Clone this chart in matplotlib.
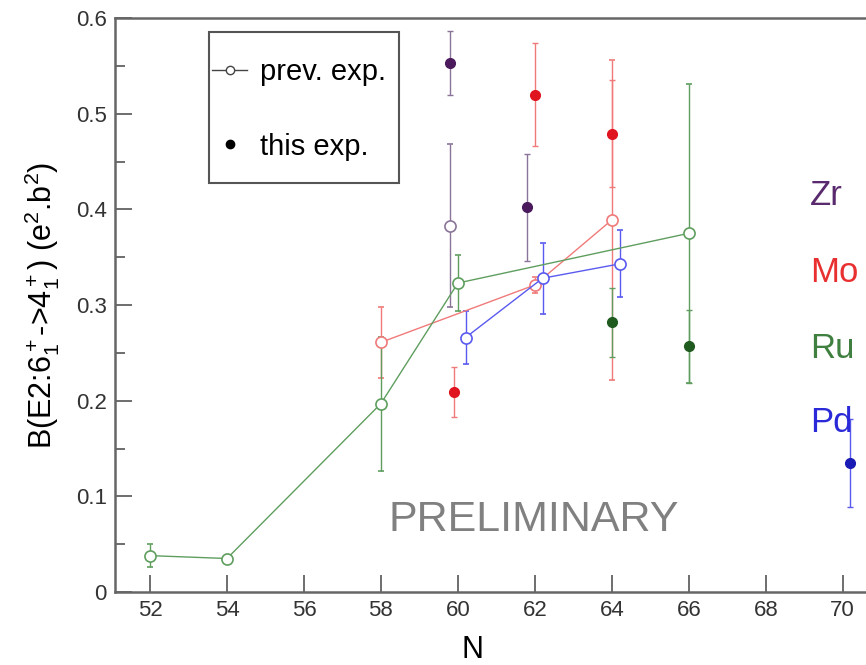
import matplotlib
matplotlib.use('Agg')
import matplotlib.pyplot as plt
from matplotlib.lines import Line2D
from matplotlib.patches import Rectangle

plt.rcParams['font.family'] = ['Liberation Sans', 'DejaVu Sans']
plt.rcParams['mathtext.fontset'] = 'custom'
plt.rcParams['mathtext.rm'] = 'Liberation Sans'
plt.rcParams['mathtext.it'] = 'Liberation Sans'

# previous experiments (open circles)
zr_prev_n = [59.8]
zr_prev = [0.383]
zr_prev_err = [0.085]
mo_prev_n = [58, 62, 64]
mo_prev = [0.261, 0.321, 0.389]
mo_prev_err = [0.037, 0.008, 0.167]
ru_prev_n = [52, 54, 58, 60, 66]
ru_prev = [0.038, 0.035, 0.197, 0.323, 0.375]
ru_prev_err = [0.012, 0.0, 0.07, 0.029, 0.156]
pd_prev_n = [60.2, 62.2, 64.2]
pd_prev = [0.266, 0.328, 0.343]
pd_prev_err = [0.028, 0.037, 0.035]

# this experiment (filled dots)
zr_this_n = [59.8, 61.8]
zr_this = [0.553, 0.402]
zr_this_err = [0.033, 0.056]
mo_this_n = [59.9, 62, 64]
mo_this = [0.209, 0.520, 0.479]
mo_this_err = [0.026, 0.054, 0.056]
ru_this_n = [64, 66]
ru_this = [0.282, 0.257]
ru_this_err = [0.036, 0.038]
pd_this_n = [70.2]
pd_this = [0.135]
pd_this_err = [0.046]

elements = ['Zr', 'Mo', 'Ru', 'Pd']
label_y = [0.415, 0.334, 0.255, 0.177]
col_dark = ['#4a1a5c', '#e0141e', '#1f5a1f', '#1a1ab4']
col_light = ['#8a7598', '#f07a7a', '#5f9e5f', '#5a5af0']
col_text = ['#5a2a6e', '#e83030', '#3f7f3f', '#2a2ad8']

fig = plt.figure(figsize=(8.66, 6.65), dpi=100)
ax = fig.add_axes([0.1328, 0.1098, 0.907, 0.863])

prev = [(zr_prev_n, zr_prev, zr_prev_err), (mo_prev_n, mo_prev, mo_prev_err),
        (ru_prev_n, ru_prev, ru_prev_err), (pd_prev_n, pd_prev, pd_prev_err)]
this = [(zr_this_n, zr_this, zr_this_err), (mo_this_n, mo_this, mo_this_err),
        (ru_this_n, ru_this, ru_this_err), (pd_this_n, pd_this, pd_this_err)]

for i in range(4):
    n, v, e = prev[i]
    ax.errorbar(n, v, yerr=e, fmt='-o', color=col_light[i], lw=1.0, elinewidth=1.0,
                capsize=2.5, capthick=1.0, ms=8, mfc='white', mec=col_light[i], mew=1.2, zorder=3)
    n, v, e = this[i]
    ax.errorbar(n, v, yerr=e, fmt='o', color=col_light[i], ecolor=col_light[i], elinewidth=1.0,
                capsize=2.5, capthick=1.0, ms=7, mfc=col_dark[i], mec=col_dark[i], zorder=4)
    ax.text(69.15, label_y[i], elements[i], color=col_text[i], fontsize=25,
            ha='left', va='center', zorder=5)

ax.text(61.97, 0.075, 'PRELIMINARY', color='#808080', fontsize=31, ha='center', va='center')

ax.set_xlim(51.09, 71.5)
ax.set_ylim(0, 0.6)
ax.set_xticks([52, 54, 56, 58, 60, 62, 64, 66, 68, 70])
ax.set_yticks([0, 0.1, 0.2, 0.3, 0.4, 0.5, 0.6])
ax.set_yticklabels(['0', '0.1', '0.2', '0.3', '0.4', '0.5', '0.6'])
ax.set_yticks([0.05, 0.15, 0.25, 0.35, 0.45, 0.55], minor=True)
ax.tick_params(axis='both', which='major', direction='in', length=12, width=1.2,
               color='#555555', labelsize=16, labelcolor='#333333', pad=6)
ax.tick_params(axis='y', which='minor', direction='in', length=7, width=1.2, color='#555555')
for s in ['left', 'bottom', 'top']:
    ax.spines[s].set_color('#666666')
    ax.spines[s].set_linewidth(1.8)
ax.spines['right'].set_visible(False)

ax.set_xlabel('N', fontsize=22)
ax.xaxis.set_label_coords(0.455, -0.075)
ax.set_ylabel(r'B(E2:6$_1^+$->4$_1^+$) (e$^2$.b$^2$)', fontsize=22)
ax.yaxis.set_label_coords(-0.067, 0.5)

# legend: entries without frame, box drawn by hand
handles = [Line2D([0], [0], color='#444444', lw=1.0, marker='o', ms=6, mfc='white', mec='#444444'),
           Line2D([0], [0], color='black', lw=0, marker='o', ms=6)]
leg = ax.legend(handles, ['prev. exp.', 'this exp.'], loc='upper left',
                bbox_to_anchor=(212 / 866, 1 - 58 / 665), bbox_transform=fig.transFigure,
                borderaxespad=0, borderpad=0, fontsize=21, frameon=False,
                handlelength=1.2, handletextpad=0.45, labelspacing=1.6)
fig.patches.append(Rectangle((209 / 866, 1 - 183 / 665), 190 / 866, 151 / 665,
                             transform=fig.transFigure, fill=False,
                             edgecolor='#555555', linewidth=1.5))

fig.savefig('out.png', dpi=100)
